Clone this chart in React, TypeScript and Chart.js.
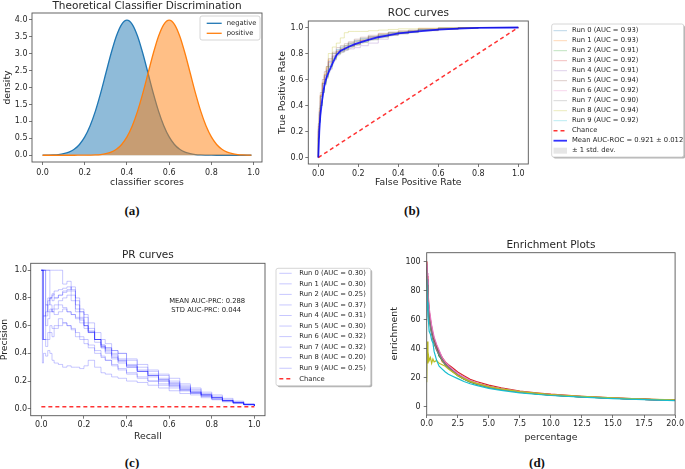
import React, { useEffect, useRef } from 'react';
import { Chart, registerables } from 'chart.js';

Chart.register(...registerables);

// ---------------- data ----------------
// (a) theoretical classifier discrimination
const scoreGrid = [0, 0.025, 0.05, 0.075, 0.1, 0.125, 0.15, 0.175, 0.2, 0.225, 0.25, 0.275, 0.3, 0.325, 0.35, 0.375, 0.4, 0.425, 0.45, 0.475, 0.5, 0.525, 0.55, 0.575, 0.6, 0.625, 0.65, 0.675, 0.7, 0.725, 0.75, 0.775, 0.8, 0.825, 0.85, 0.875, 0.9, 0.925, 0.95, 0.975, 0.99];
const negativeDensity = [0.001, 0.004, 0.009, 0.02, 0.044, 0.091, 0.175, 0.317, 0.54, 0.863, 1.295, 1.826, 2.42, 3.011, 3.521, 3.866, 3.989, 3.866, 3.521, 3.011, 2.42, 1.826, 1.295, 0.863, 0.54, 0.317, 0.175, 0.091, 0.044, 0.02, 0.009, 0.004, 0.001, 0, 0, 0, 0, 0, 0, 0, 0];
const positiveDensity = [0, 0, 0, 0, 0, 0, 0, 0.0005, 0.001, 0.004, 0.009, 0.02, 0.044, 0.091, 0.175, 0.317, 0.54, 0.863, 1.295, 1.826, 2.42, 3.011, 3.521, 3.866, 3.989, 3.866, 3.521, 3.011, 2.42, 1.826, 1.295, 0.863, 0.54, 0.317, 0.175, 0.091, 0.044, 0.02, 0.009, 0.004, 0.002];
const aXTicks = [0, 0.2, 0.4, 0.6, 0.8, 1.0];
const aYTicks = [0, 0.5, 1.0, 1.5, 2.0, 2.5, 3.0, 3.5, 4.0];

// (b) ROC curves
const rocFpr = [0, 0.005, 0.01, 0.02, 0.03, 0.04, 0.05, 0.07, 0.09, 0.11, 0.13, 0.15, 0.18, 0.21, 0.25, 0.3, 0.35, 0.4, 0.45, 0.5, 0.6, 0.7, 0.8, 1.0];
const rocRun0 = [0, 0.22, 0.35, 0.47, 0.57, 0.63, 0.67, 0.74, 0.8, 0.83, 0.85, 0.86, 0.88, 0.9, 0.915, 0.93, 0.945, 0.96, 0.965, 0.975, 0.985, 0.995, 1, 1];
const rocRun1 = [0, 0.18, 0.33, 0.48, 0.58, 0.64, 0.69, 0.75, 0.8, 0.82, 0.84, 0.86, 0.88, 0.895, 0.91, 0.93, 0.95, 0.96, 0.97, 0.975, 0.99, 0.995, 1, 1];
const rocRun2 = [0, 0.15, 0.28, 0.4, 0.5, 0.57, 0.62, 0.7, 0.76, 0.8, 0.82, 0.835, 0.855, 0.87, 0.89, 0.91, 0.93, 0.945, 0.955, 0.965, 0.98, 0.99, 0.995, 1];
const rocRun3 = [0, 0.24, 0.36, 0.48, 0.57, 0.62, 0.66, 0.73, 0.78, 0.81, 0.83, 0.845, 0.86, 0.875, 0.9, 0.92, 0.935, 0.95, 0.96, 0.97, 0.98, 0.99, 0.997, 1];
const rocRun4 = [0, 0.2, 0.3, 0.43, 0.53, 0.6, 0.64, 0.71, 0.77, 0.8, 0.815, 0.825, 0.835, 0.845, 0.86, 0.88, 0.91, 0.94, 0.955, 0.965, 0.98, 0.99, 0.995, 1];
const rocRun5 = [0, 0.26, 0.38, 0.5, 0.6, 0.66, 0.7, 0.76, 0.81, 0.845, 0.86, 0.875, 0.89, 0.91, 0.925, 0.94, 0.955, 0.965, 0.975, 0.98, 0.99, 0.995, 1, 1];
const rocRun6 = [0, 0.2, 0.31, 0.44, 0.56, 0.63, 0.68, 0.74, 0.79, 0.82, 0.83, 0.845, 0.86, 0.88, 0.9, 0.925, 0.94, 0.95, 0.96, 0.97, 0.98, 0.99, 0.995, 1];
const rocRun7 = [0, 0.16, 0.27, 0.4, 0.5, 0.56, 0.61, 0.68, 0.75, 0.79, 0.81, 0.83, 0.85, 0.865, 0.885, 0.905, 0.925, 0.94, 0.95, 0.96, 0.975, 0.985, 0.995, 1];
const rocRun8 = [0, 0.21, 0.34, 0.47, 0.57, 0.64, 0.7, 0.8, 0.85, 0.88, 0.92, 0.96, 0.97, 0.97, 0.97, 0.975, 0.98, 0.985, 0.99, 0.99, 0.995, 1, 1, 1];
const rocRun9 = [0, 0.14, 0.27, 0.42, 0.52, 0.6, 0.65, 0.72, 0.78, 0.815, 0.835, 0.85, 0.87, 0.89, 0.905, 0.925, 0.94, 0.955, 0.965, 0.97, 0.985, 0.99, 0.997, 1];
const rocRuns = [rocRun0, rocRun1, rocRun2, rocRun3, rocRun4, rocRun5, rocRun6, rocRun7, rocRun8, rocRun9];
const rocAuc = ['0.93', '0.93', '0.91', '0.92', '0.91', '0.94', '0.92', '0.90', '0.94', '0.92'];
const rocMean = [0, 0.2, 0.32, 0.45, 0.55, 0.61, 0.65, 0.72, 0.785, 0.82, 0.835, 0.85, 0.87, 0.885, 0.905, 0.925, 0.94, 0.955, 0.963, 0.97, 0.983, 0.992, 0.997, 1.0];
const rocUpper = [0, 0.24, 0.36, 0.48, 0.58, 0.64, 0.68, 0.75, 0.81, 0.845, 0.86, 0.875, 0.89, 0.905, 0.92, 0.94, 0.955, 0.965, 0.972, 0.978, 0.99, 0.997, 1, 1];
const rocLower = [0, 0.16, 0.28, 0.42, 0.52, 0.58, 0.62, 0.69, 0.76, 0.795, 0.81, 0.825, 0.85, 0.865, 0.89, 0.91, 0.925, 0.945, 0.954, 0.962, 0.976, 0.987, 0.994, 1];
const chanceX = [0, 1];
const chanceY = [0, 1];
const rocTicks = [0, 0.2, 0.4, 0.6, 0.8, 1.0];

// (c) PR curves
const prRecall = [0, 0.005, 0.01, 0.02, 0.03, 0.04, 0.05, 0.06, 0.08, 0.1, 0.12, 0.14, 0.16, 0.18, 0.2, 0.22, 0.25, 0.28, 0.3, 0.33, 0.36, 0.4, 0.45, 0.5, 0.55, 0.6, 0.65, 0.7, 0.75, 0.8, 0.85, 0.9, 0.95, 1.0];
const prRun0 = [1, 1, 1, 0.6, 0.65, 0.7, 0.72, 0.75, 0.78, 0.8, 0.82, 0.78, 0.7, 0.65, 0.6, 0.55, 0.5, 0.45, 0.42, 0.38, 0.35, 0.31, 0.27, 0.24, 0.21, 0.18, 0.15, 0.12, 0.1, 0.08, 0.06, 0.045, 0.03, 0.02];
const prRun1 = [1, 0.5, 0.5, 0.67, 0.75, 0.8, 0.78, 0.8, 0.82, 0.85, 0.86, 0.88, 0.8, 0.72, 0.66, 0.58, 0.5, 0.44, 0.4, 0.36, 0.33, 0.3, 0.27, 0.23, 0.2, 0.17, 0.14, 0.12, 0.1, 0.08, 0.06, 0.045, 0.03, 0.02];
const prRun2 = [1, 1, 0.5, 0.5, 0.55, 0.6, 0.58, 0.6, 0.65, 0.62, 0.6, 0.58, 0.55, 0.52, 0.5, 0.46, 0.42, 0.38, 0.35, 0.31, 0.28, 0.25, 0.22, 0.2, 0.17, 0.15, 0.13, 0.11, 0.09, 0.07, 0.055, 0.04, 0.03, 0.02];
const prRun3 = [1, 1, 1, 1, 1, 1, 1, 1, 1, 0.9, 0.92, 0.85, 0.75, 0.7, 0.68, 0.62, 0.55, 0.5, 0.47, 0.42, 0.4, 0.36, 0.32, 0.28, 0.25, 0.22, 0.18, 0.15, 0.12, 0.1, 0.075, 0.055, 0.035, 0.02];
const prRun4 = [1, 1, 0.67, 0.75, 0.8, 0.8, 0.83, 0.8, 0.82, 0.84, 0.85, 0.82, 0.72, 0.66, 0.6, 0.55, 0.48, 0.44, 0.41, 0.37, 0.34, 0.3, 0.27, 0.24, 0.21, 0.18, 0.15, 0.12, 0.1, 0.08, 0.06, 0.045, 0.03, 0.02];
const prRun5 = [1, 1, 1, 1, 1, 0.75, 0.7, 0.72, 0.75, 0.73, 0.7, 0.68, 0.65, 0.62, 0.58, 0.55, 0.5, 0.46, 0.43, 0.39, 0.35, 0.31, 0.27, 0.24, 0.2, 0.17, 0.14, 0.12, 0.1, 0.08, 0.06, 0.045, 0.03, 0.02];
const prRun6 = [1, 0.5, 0.67, 0.7, 0.78, 0.8, 0.82, 0.85, 0.86, 0.87, 0.88, 0.86, 0.78, 0.7, 0.62, 0.56, 0.5, 0.46, 0.44, 0.4, 0.36, 0.32, 0.28, 0.25, 0.22, 0.19, 0.16, 0.13, 0.1, 0.08, 0.06, 0.045, 0.03, 0.02];
const prRun7 = [1, 1, 1, 0.75, 0.7, 0.72, 0.7, 0.68, 0.7, 0.72, 0.7, 0.68, 0.66, 0.64, 0.6, 0.56, 0.5, 0.45, 0.44, 0.42, 0.4, 0.35, 0.3, 0.27, 0.24, 0.2, 0.17, 0.14, 0.11, 0.09, 0.065, 0.05, 0.035, 0.02];
const prRun8 = [1, 0.33, 0.4, 0.38, 0.42, 0.4, 0.35, 0.33, 0.32, 0.3, 0.31, 0.3, 0.3, 0.29, 0.31, 0.35, 0.3, 0.26, 0.25, 0.23, 0.22, 0.2, 0.19, 0.17, 0.15, 0.13, 0.11, 0.1, 0.08, 0.065, 0.05, 0.04, 0.03, 0.02];
const prRun9 = [1, 1, 0.5, 0.45, 0.5, 0.55, 0.52, 0.58, 0.6, 0.62, 0.6, 0.57, 0.52, 0.5, 0.47, 0.44, 0.4, 0.37, 0.35, 0.32, 0.29, 0.26, 0.23, 0.2, 0.18, 0.16, 0.13, 0.11, 0.09, 0.07, 0.055, 0.04, 0.03, 0.02];
const prRuns = [prRun0, prRun1, prRun2, prRun3, prRun4, prRun5, prRun6, prRun7, prRun8, prRun9];
const prAuc = ['0.30', '0.30', '0.25', '0.37', '0.31', '0.30', '0.32', '0.32', '0.20', '0.25'];
const prChanceX = [0, 1];
const prChanceY = [0.015, 0.015];
const prNote = ['MEAN AUC-PRC: 0.288', ' STD AUC-PRC: 0.044'];
const prTicks = [0, 0.2, 0.4, 0.6, 0.8, 1.0];

// (d) enrichment plots
const enrPct = [0, 0.05, 0.1, 0.15, 0.2, 0.3, 0.4, 0.5, 0.6, 0.8, 1.0, 1.25, 1.5, 1.75, 2.0, 2.5, 3, 3.5, 4, 5, 6, 7.5, 9, 10, 12.5, 15, 17.5, 20];
const enr0 = [96, 88, 72, 70, 60, 58, 50, 49, 44, 41, 35, 33, 29, 28, 26, 22, 19.5, 17.5, 16, 13.5, 12, 10.2, 9, 8.2, 7, 6, 5.2, 4.6];
const enr1 = [100, 82, 78, 66, 64, 55, 54, 47, 46, 39, 37, 31, 30, 27, 25, 22, 19.8, 17.8, 16.2, 14, 12.3, 10.4, 9.1, 8.4, 7.1, 6.1, 5.3, 4.7];
const enr2 = [90, 80, 74, 68, 61, 56, 51, 48, 43, 40, 35, 32, 29, 27, 25, 21.5, 19, 17, 15.6, 13.5, 12, 10.2, 8.9, 8.2, 7, 6, 5.2, 4.6];
const enr3 = [100, 90, 80, 72, 66, 60, 55, 50, 47, 42, 38, 34, 31, 29, 27.5, 24, 21.5, 19, 17.5, 15, 13.2, 11, 9.6, 8.8, 7.3, 6.2, 5.4, 4.7];
const enr4 = [98, 86, 76, 70, 62, 58, 53, 49, 45, 40, 37, 33, 30, 28, 26, 22.5, 20, 18, 16.3, 14, 12.4, 10.4, 9.1, 8.4, 7.1, 6.1, 5.2, 4.6];
const enr5 = [95, 84, 75, 67, 63, 57, 52, 48, 46, 41, 36, 33, 30, 27.5, 25.5, 22, 19.5, 17.5, 16, 13.8, 12.2, 10.3, 9, 8.3, 7, 6, 5.2, 4.6];
const enr6 = [100, 92, 80, 74, 68, 62, 56, 52, 48, 43, 39, 34, 31, 28.5, 26.5, 23, 20.5, 18.3, 16.6, 14.2, 12.5, 10.5, 9.2, 8.5, 7.1, 6.1, 5.3, 4.6];
const enr7 = [94, 84, 72, 66, 60, 55, 50, 46, 44, 39, 36, 32, 29, 27, 25, 21.8, 19.3, 17.4, 15.9, 13.7, 12.1, 10.2, 9, 8.3, 7, 6, 5.2, 4.6];
const enr8 = [17, 45, 30, 35, 32, 34, 30, 33, 31, 32, 30, 29, 28, 26, 24.5, 21.5, 19.5, 17.6, 16.2, 14, 12.4, 10.6, 9.3, 8.6, 7.3, 6.3, 5.5, 4.9];
const enr9 = [88, 72, 62, 58, 52, 50, 46, 44, 38, 32, 28, 26, 24, 22.5, 21.5, 19.5, 17.5, 16, 14.8, 12.8, 11.4, 9.7, 8.6, 7.9, 6.8, 5.8, 5, 4.4];
const enrRuns = [enr0, enr1, enr2, enr3, enr4, enr5, enr6, enr7, enr8, enr9];
const enrXTicks = [0, 2.5, 5, 7.5, 10, 12.5, 15, 17.5, 20];
const enrYTicks = [0, 20, 40, 60, 80, 100];

// ---------------- styles ----------------
const FONT = '"DejaVu Sans", sans-serif';
const TEXT = '#262626';
const AXIS = '#555555';
const TAB = ['31,119,180', '255,127,14', '44,160,44', '214,39,40', '148,103,189', '140,86,75', '227,119,194', '127,127,127', '188,189,34', '23,190,207'];
const rgba = (c: string, a: number) => `rgba(${c},${a})`;

const pts = (xs: number[], ys: number[]) => xs.map((x, i) => ({ x, y: ys[i] }));

// ---------------- plugins ----------------
const framePlugin = {
  id: 'frame',
  afterDatasetsDraw(chart: any) {
    const { ctx, chartArea: a } = chart;
    ctx.save();
    ctx.strokeStyle = AXIS;
    ctx.lineWidth = 0.9;
    ctx.strokeRect(a.left, a.top, a.right - a.left, a.bottom - a.top);
    ctx.restore();
  },
};

const boxLegendPlugin = {
  id: 'boxLegend',
  afterDraw(chart: any, _args: any, opts: any) {
    if (!opts || !opts.show) return;
    const ctx = chart.ctx as CanvasRenderingContext2D;
    const { x, y, w, h, rowY, rowH, hx0, hx1, tx, fontSize, shadow, alpha } = opts;
    const rr = (px: number, py: number) => {
      const r = 2;
      ctx.beginPath();
      ctx.moveTo(px + r, py);
      ctx.lineTo(px + w - r, py);
      ctx.quadraticCurveTo(px + w, py, px + w, py + r);
      ctx.lineTo(px + w, py + h - r);
      ctx.quadraticCurveTo(px + w, py + h, px + w - r, py + h);
      ctx.lineTo(px + r, py + h);
      ctx.quadraticCurveTo(px, py + h, px, py + h - r);
      ctx.lineTo(px, py + r);
      ctx.quadraticCurveTo(px, py, px + r, py);
      ctx.closePath();
    };
    ctx.save();
    if (shadow) {
      rr(x + 1.5, y + 1.5);
      ctx.fillStyle = 'rgba(0,0,0,0.3)';
      ctx.fill();
    }
    rr(x, y);
    ctx.fillStyle = `rgba(255,255,255,${alpha})`;
    ctx.fill();
    ctx.strokeStyle = '#cccccc';
    ctx.lineWidth = 0.8;
    ctx.stroke();
    const items = chart.data.datasets.filter((d: any) => d.label);
    items.forEach((d: any, i: number) => {
      const cy = rowY + i * rowH;
      if (d.legendBox) {
        ctx.fillStyle = d.backgroundColor;
        ctx.fillRect(hx0, cy - 3, hx1 - hx0, 6);
      } else {
        ctx.beginPath();
        ctx.setLineDash(d.borderDash || []);
        ctx.strokeStyle = d.borderColor;
        ctx.lineWidth = d.borderWidth;
        ctx.moveTo(hx0, cy);
        ctx.lineTo(hx1, cy);
        ctx.stroke();
        ctx.setLineDash([]);
      }
      ctx.fillStyle = TEXT;
      ctx.font = `${fontSize}px ${FONT}`;
      ctx.textBaseline = 'middle';
      ctx.textAlign = 'left';
      ctx.fillText(d.label, tx, cy);
    });
    ctx.restore();
  },
};

const noteTextPlugin = {
  id: 'noteText',
  afterDatasetsDraw(chart: any, _args: any, opts: any) {
    if (!opts || !opts.lines || !opts.lines.length) return;
    const ctx = chart.ctx as CanvasRenderingContext2D;
    const px = chart.scales.x.getPixelForValue(opts.x);
    const py = chart.scales.y.getPixelForValue(opts.y);
    ctx.save();
    ctx.fillStyle = TEXT;
    ctx.font = `${opts.fontSize}px ${FONT}`;
    ctx.textBaseline = 'middle';
    ctx.textAlign = 'left';
    opts.lines.forEach((l: string, i: number) => ctx.fillText(l, px, py + i * opts.lh));
    ctx.restore();
  },
};

// ---------------- helpers ----------------
function makeScale(o: {
  min: number; max: number; ticks: number[]; digits: number; size: number; horizontal: boolean;
  title: string; titlePad: any; tickPad: number;
}) {
  return {
    type: 'linear',
    min: o.min,
    max: o.max,
    bounds: 'data',
    afterBuildTicks: (s: any) => {
      s.ticks = o.ticks.map((v) => ({ value: v }));
    },
    afterFit: (s: any) => {
      if (o.horizontal) s.height = o.size;
      else s.width = o.size;
    },
    ticks: {
      font: { family: FONT, size: 8 },
      color: TEXT,
      padding: o.tickPad,
      autoSkip: false,
      maxRotation: 0,
      minRotation: 0,
      callback: (v: any) => Number(v).toFixed(o.digits),
    },
    grid: { display: true, drawOnChartArea: false, drawTicks: true, tickLength: 3, tickColor: AXIS, tickWidth: 0.8, color: AXIS },
    border: { display: false },
    title: { display: true, text: o.title, font: { family: FONT, size: 9.3, lineHeight: 1.2 }, color: TEXT, padding: o.titlePad },
  };
}

function baseOptions(o: any) {
  return {
    responsive: false,
    animation: false,
    events: [],
    layout: { padding: o.padding },
    plugins: {
      legend: { display: false },
      tooltip: { enabled: false },
      title: {
        display: true,
        text: o.title,
        fullSize: false,
        font: { family: FONT, size: 10.5, lineHeight: 1.2, weight: 'normal' },
        color: TEXT,
        padding: o.titlePad,
      },
      boxLegend: o.legend || { show: false },
      noteText: o.note || { lines: [] },
    },
    scales: { x: o.x, y: o.y },
  };
}

// ---------------- configs ----------------
function configA() {
  return {
    type: 'line',
    data: {
      datasets: [
        {
          label: 'negative', data: pts(scoreGrid, negativeDensity), borderColor: rgba(TAB[0], 1),
          backgroundColor: rgba(TAB[0], 0.5), fill: 'origin', borderWidth: 1.3, pointRadius: 0,
          cubicInterpolationMode: 'monotone', order: 2,
        },
        {
          label: 'positive', data: pts(scoreGrid, positiveDensity), borderColor: rgba(TAB[1], 1),
          backgroundColor: rgba(TAB[1], 0.5), fill: 'origin', borderWidth: 1.3, pointRadius: 0,
          cubicInterpolationMode: 'monotone', order: 1,
        },
      ],
    },
    options: baseOptions({
      padding: { top: 0, left: 0, right: 8, bottom: 0 },
      title: 'Theoretical Classifier Discrimination',
      titlePad: { top: 0, bottom: 0.4 },
      x: makeScale({ min: -0.05, max: 1.04, ticks: aXTicks, digits: 1, size: 33, horizontal: true, title: 'classifier scores', titlePad: { top: 0, bottom: 6.4 }, tickPad: 3 }),
      y: makeScale({ min: -0.2, max: 4.2, ticks: aYTicks, digits: 1, size: 32, horizontal: false, title: 'density', titlePad: { top: 1.9, bottom: 0 }, tickPad: 1.5 }),
      legend: { show: true, x: 200, y: 16, w: 60, h: 24, rowY: 23.3, rowH: 10, hx0: 206.7, hx1: 221.7, tx: 226.7, fontSize: 6.8, shadow: false, alpha: 0.8 },
    }),
    plugins: [framePlugin, boxLegendPlugin, noteTextPlugin],
  };
}

function configB() {
  const runs = rocRuns.map((r, i) => ({
    label: `Run ${i} (AUC = ${rocAuc[i]})`, data: pts(rocFpr, r), borderColor: rgba(TAB[i], 0.3),
    borderWidth: 1, pointRadius: 0, fill: false, stepped: 'after', order: 5,
  }));
  return {
    type: 'line',
    data: {
      datasets: [
        ...runs,
        { label: 'Chance', data: pts(chanceX, chanceY), borderColor: 'rgba(255,0,0,0.8)', borderWidth: 1.5, borderDash: [4, 3], pointRadius: 0, fill: false, order: 2 },
        { label: 'Mean AUC-ROC = 0.921 ± 0.012', data: pts(rocFpr, rocMean), borderColor: 'rgba(0,0,255,0.8)', borderWidth: 1.8, pointRadius: 0, fill: false, order: 1 },
        { data: pts(rocFpr, rocLower), borderWidth: 0, borderColor: 'rgba(0,0,0,0)', pointRadius: 0, fill: false, order: 3 },
        { label: '± 1 std. dev.', data: pts(rocFpr, rocUpper), borderWidth: 0, borderColor: 'rgba(0,0,0,0)', backgroundColor: 'rgba(128,128,128,0.2)', pointRadius: 0, fill: '-1', order: 3, legendBox: true },
      ],
    },
    options: baseOptions({
      padding: { top: 0, left: 0, right: 156.7, bottom: 0 },
      title: 'ROC curves',
      titlePad: { top: 7, bottom: 1.4 },
      x: makeScale({ min: -0.05, max: 1.05, ticks: rocTicks, digits: 1, size: 31, horizontal: true, title: 'False Positive Rate', titlePad: { top: 0, bottom: 6.4 }, tickPad: 2 }),
      y: makeScale({ min: -0.05, max: 1.05, ticks: rocTicks, digits: 1, size: 38.3, horizontal: false, title: 'True Positive Rate', titlePad: { top: 7.4, bottom: 0 }, tickPad: 2 }),
      legend: { show: true, x: 281.7, y: 24, w: 132, h: 133, rowY: 30.7, rowH: 10, hx0: 283.5, hx1: 297, tx: 302, fontSize: 6.8, shadow: true, alpha: 1 },
    }),
    plugins: [framePlugin, boxLegendPlugin, noteTextPlugin],
  };
}

function configC() {
  const runs = prRuns.map((r, i) => ({
    label: `Run ${i} (AUC = ${prAuc[i]})`, data: pts(prRecall, r), borderColor: 'rgba(0,0,255,0.22)',
    borderWidth: 1, pointRadius: 0, fill: false, stepped: 'before', order: 5,
  }));
  return {
    type: 'line',
    data: {
      datasets: [
        ...runs,
        { label: 'Chance', data: pts(prChanceX, prChanceY), borderColor: 'rgba(255,0,0,0.8)', borderWidth: 1.5, borderDash: [4, 3], pointRadius: 0, fill: false, order: 1 },
      ],
    },
    options: baseOptions({
      padding: { top: 0, left: 0, right: 120, bottom: 0 },
      title: 'PR curves',
      titlePad: { top: 9.4, bottom: 1.3 },
      x: makeScale({ min: -0.05, max: 1.05, ticks: prTicks, digits: 1, size: 29.3, horizontal: true, title: 'Recall', titlePad: { top: 0, bottom: 2.4 }, tickPad: 1 }),
      y: makeScale({ min: -0.05, max: 1.05, ticks: prTicks, digits: 1, size: 30.7, horizontal: false, title: 'Precision', titlePad: { top: -1, bottom: 0 }, tickPad: 0.5 }),
      legend: { show: true, x: 276, y: 28.3, w: 94.7, h: 117.4, rowY: 33.3, rowH: 10.55, hx0: 279.3, hx1: 291.7, tx: 299.3, fontSize: 6.8, shadow: true, alpha: 1 },
      note: { lines: prNote, x: 0.6, y: 0.774, lh: 8.3, fontSize: 6.8 },
    }),
    plugins: [framePlugin, boxLegendPlugin, noteTextPlugin],
  };
}

function configD() {
  const runs = enrRuns.map((r, i) => ({
    label: '', data: pts(enrPct, r), borderColor: rgba(TAB[i], 1),
    borderWidth: 1.2, pointRadius: 0, fill: false, order: 10 - i,
  }));
  return {
    type: 'line',
    data: { datasets: runs },
    options: baseOptions({
      padding: { top: 0, left: 0, right: 9.7, bottom: 0 },
      title: 'Enrichment Plots',
      titlePad: { top: 0.7, bottom: 1.4 },
      x: makeScale({ min: 0, max: 20, ticks: enrXTicks, digits: 1, size: 30, horizontal: true, title: 'percentage', titlePad: { top: 0, bottom: 2.1 }, tickPad: 1 }),
      y: makeScale({ min: -5.5, max: 106, ticks: enrYTicks, digits: 0, size: 41.7, horizontal: false, title: 'enrichment', titlePad: { top: 4.4, bottom: 0 }, tickPad: 3 }),
    }),
    plugins: [framePlugin, boxLegendPlugin, noteTextPlugin],
  };
}

// ---------------- components ----------------
function ChartCanvas(props: { left: number; top: number; width: number; height: number; make: () => any }) {
  const ref = useRef<HTMLCanvasElement | null>(null);
  useEffect(() => {
    if (!ref.current) return;
    const chart = new Chart(ref.current, props.make());
    return () => chart.destroy();
  }, []);
  return (
    <canvas
      ref={ref}
      width={props.width}
      height={props.height}
      style={{ position: 'absolute', left: props.left, top: props.top, width: props.width, height: props.height }}
    />
  );
}

function PanelLabel(props: { x: number; y: number; text: string }) {
  return (
    <div
      style={{
        position: 'absolute', left: props.x, top: props.y, transform: 'translate(-50%, -50%)',
        fontFamily: '"Liberation Serif", serif', fontWeight: 'bold', fontSize: 13, lineHeight: 1, color: '#111',
        whiteSpace: 'nowrap',
      }}
    >
      {props.text}
    </div>
  );
}

export default function App() {
  return (
    <div style={{ position: 'absolute', left: 0, top: 0, width: 685, height: 469, background: '#ffffff', overflow: 'hidden' }}>
      <ChartCanvas left={0} top={0} width={270} height={195} make={configA} />
      <ChartCanvas left={270} top={0} width={415} height={195} make={configB} />
      <ChartCanvas left={0} top={240} width={385} height={205} make={configC} />
      <ChartCanvas left={385} top={238} width={300} height={207} make={configD} />
      <PanelLabel x={132} y={210} text="(a)" />
      <PanelLabel x={412} y={210} text="(b)" />
      <PanelLabel x={132} y={461.5} text="(c)" />
      <PanelLabel x={537} y={461.5} text="(d)" />
    </div>
  );
}
